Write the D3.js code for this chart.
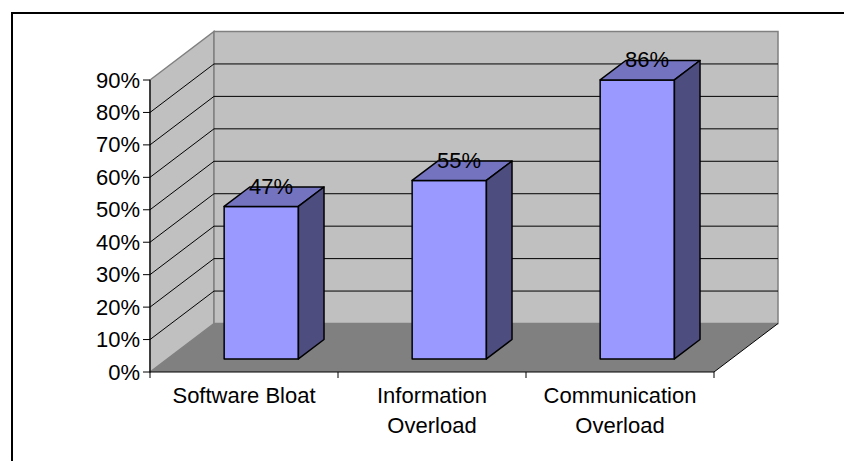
<!DOCTYPE html>
<html>
<head>
<meta charset="utf-8">
<script src="https://cdn.jsdelivr.net/npm/d3@7"></script>
<style>
  body { margin: 0; background: #fff; }
  svg { display: block; font-family: "Liberation Sans", Arial, sans-serif; }
</style>
</head>
<body>
<svg width="844" height="461"></svg>
<script>
// chart data
var categories = ["Software Bloat", "Information Overload", "Communication Overload"];
var categoryLines = [["Software Bloat"], ["Information", "Overload"], ["Communication", "Overload"]];
var values = [0.47, 0.55, 0.86];
var yTicks = [0, 0.1, 0.2, 0.3, 0.4, 0.5, 0.6, 0.7, 0.8, 0.9];

var svg = d3.select("svg");
var fontSize = 22;

// outer frame (right/bottom edges fall outside the picture)
svg.append("rect")
    .attr("x", 12).attr("y", 13)
    .attr("width", 840).attr("height", 460)
    .attr("fill", "none")
    .attr("stroke", "#000")
    .attr("stroke-width", 2);

// front plane + depth offset of the 3d box
var plotLeft = 150, plotRight = 714, plotBase = 372, plotTop = 80;
var DX = 64, DY = -48.5;

var x = d3.scaleBand().domain(categories).range([plotLeft, plotRight]);
var y = d3.scaleLinear().domain([0, 0.9]).range([plotBase, plotTop]);

function poly(pts) { return "M" + pts.map(function(p) { return p.join(","); }).join("L") + "Z"; }
function shift(p, d) { return [p[0] + d * DX, p[1] + d * DY]; }

var yMax = y(0.9), y0 = y(0);

// side wall
svg.append("path")
    .attr("d", poly([[plotLeft, yMax], shift([plotLeft, yMax], 1), shift([plotLeft, y0], 1), [plotLeft, y0]]))
    .attr("fill", "#c0c0c0").attr("stroke", "#808080").attr("stroke-width", 1.5);

// back wall
svg.append("path")
    .attr("d", poly([shift([plotLeft, yMax], 1), shift([plotRight, yMax], 1), shift([plotRight, y0], 1), shift([plotLeft, y0], 1)]))
    .attr("fill", "#c0c0c0").attr("stroke", "#808080").attr("stroke-width", 1.5);

// floor
svg.append("path")
    .attr("d", poly([[plotLeft, y0], [plotRight, y0], shift([plotRight, y0], 1), shift([plotLeft, y0], 1)]))
    .attr("fill", "#808080").attr("stroke", "none");
svg.append("line")
    .attr("x1", plotRight).attr("y1", y0)
    .attr("x2", plotRight + DX).attr("y2", y0 + DY)
    .attr("stroke", "#000").attr("stroke-width", 1);

// gridlines
var grid = yTicks.filter(function(t) { return t > 0 && t < 0.9; });
svg.selectAll(".grid")
    .data(grid)
    .enter().append("path")
    .attr("class", "grid")
    .attr("fill", "none")
    .attr("stroke", "#000")
    .attr("stroke-width", 1)
    .attr("d", function(t) {
        var a = [plotLeft, y(t)], b = shift(a, 1), c = shift([plotRight, y(t)], 1);
        return "M" + a.join(",") + "L" + b.join(",") + "L" + c.join(",");
    });

// bars
var dFront = 0.27, dBack = 0.67, barRatio = 0.395;
var bars = svg.selectAll(".bar")
    .data(values)
    .enter().append("g")
    .attr("class", "bar");

bars.each(function(v, i) {
    var g = d3.select(this);
    var cx = x(categories[i]) + x.bandwidth() / 2;
    var w = x.bandwidth() * barRatio;
    var fl = shift([cx - w / 2, y(v)], dFront), fr = shift([cx + w / 2, y(v)], dFront);
    var bl = shift([cx - w / 2, y(0)], dFront), br = shift([cx + w / 2, y(0)], dFront);
    var d = dBack - dFront;
    // front
    g.append("path").attr("d", poly([fl, fr, br, bl]))
        .attr("fill", "#9999ff").attr("stroke", "#000").attr("stroke-width", 1.5)
        .attr("stroke-linejoin", "round");
    // top
    g.append("path").attr("d", poly([fl, fr, shift(fr, d), shift(fl, d)]))
        .attr("fill", "#7373c0").attr("stroke", "#000").attr("stroke-width", 1.5)
        .attr("stroke-linejoin", "round");
    // side
    g.append("path").attr("d", poly([fr, shift(fr, d), shift(br, d), br]))
        .attr("fill", "#4d4d80").attr("stroke", "#000").attr("stroke-width", 1.5)
        .attr("stroke-linejoin", "round");
    // value label
    var mid = shift([cx, y(v)], (dFront + dBack) / 2);
    g.append("text")
        .attr("x", mid[0] - 3)
        .attr("y", mid[1] - 3)
        .attr("text-anchor", "middle")
        .attr("font-size", fontSize)
        .attr("fill", "#000")
        .text(d3.format(".0%")(v));
});

// y axis
svg.append("line")
    .attr("x1", plotLeft).attr("y1", yMax)
    .attr("x2", plotLeft).attr("y2", y0)
    .attr("stroke", "#000").attr("stroke-width", 1.2);
var yt = svg.selectAll(".ytick").data(yTicks).enter().append("g").attr("class", "ytick");
yt.append("line")
    .attr("x1", plotLeft - 7).attr("x2", plotLeft)
    .attr("y1", function(t) { return y(t); })
    .attr("y2", function(t) { return y(t); })
    .attr("stroke", "#000").attr("stroke-width", 1);
yt.append("text")
    .attr("x", plotLeft - 10)
    .attr("y", function(t) { return y(t) + 7.5; })
    .attr("text-anchor", "end")
    .attr("font-size", fontSize)
    .text(function(t) { return d3.format(".0%")(t); });

// x axis
svg.append("line")
    .attr("x1", plotLeft).attr("y1", y0)
    .attr("x2", plotRight).attr("y2", y0)
    .attr("stroke", "#000").attr("stroke-width", 1.2);
var xTicks = categories.map(function(c) { return x(c); }).concat([plotRight]);
svg.selectAll(".xtick").data(xTicks).enter().append("line")
    .attr("class", "xtick")
    .attr("x1", function(d) { return d; }).attr("x2", function(d) { return d; })
    .attr("y1", y0).attr("y2", y0 + 6)
    .attr("stroke", "#000").attr("stroke-width", 1);

var xl = svg.selectAll(".xlabel").data(categories).enter().append("text")
    .attr("class", "xlabel")
    .attr("text-anchor", "middle")
    .attr("font-size", fontSize)
    .attr("y", 403);
xl.each(function(c, i) {
    var t = d3.select(this);
    categoryLines[i].forEach(function(line, k) {
        t.append("tspan")
            .attr("x", x(c) + x.bandwidth() / 2)
            .attr("dy", k === 0 ? 0 : 30)
            .text(line);
    });
});
</script>
</body>
</html>
